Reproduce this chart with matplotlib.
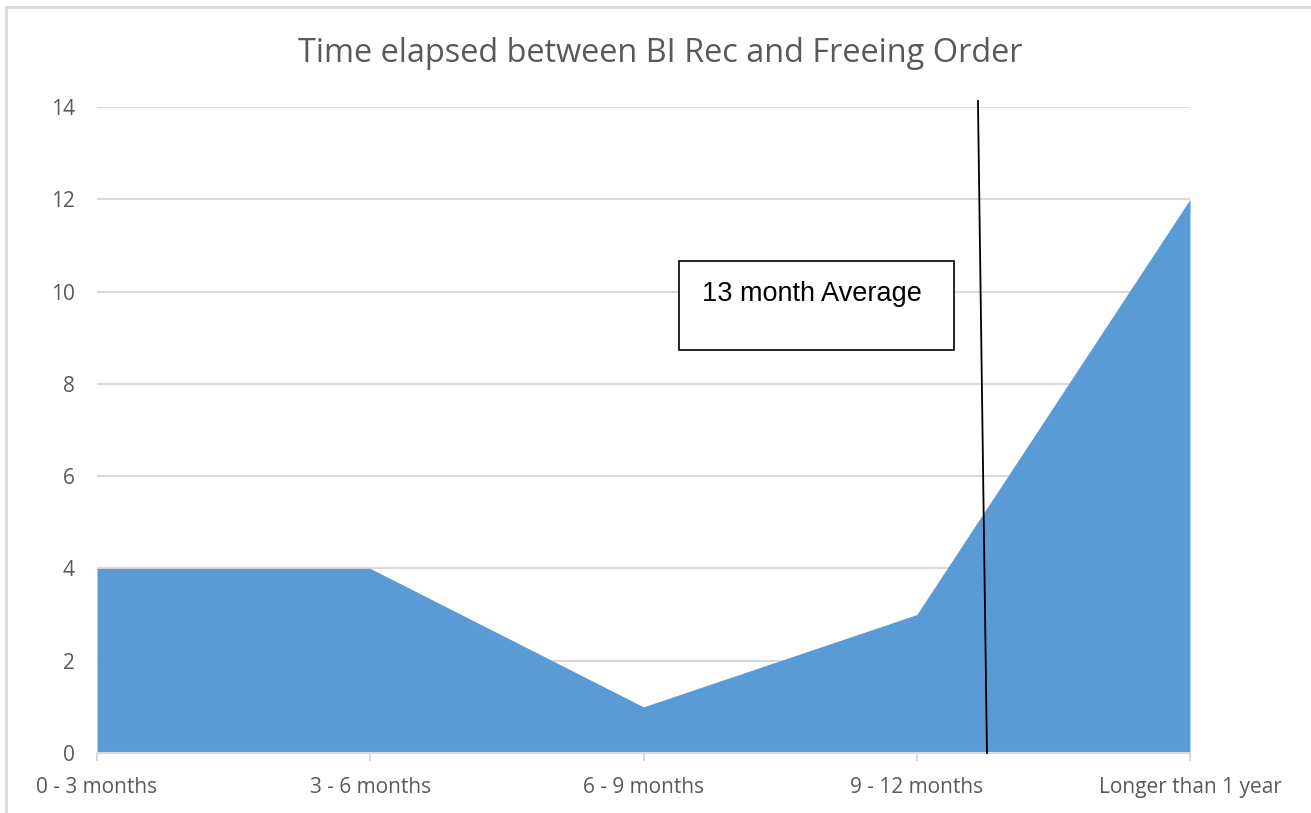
import matplotlib.pyplot as plt
from matplotlib.patches import Rectangle

categories = ['0 - 3 months', '3 - 6 months', '6 - 9 months', '9 - 12 months', 'Longer than 1 year']
counts = [4, 4, 1, 3, 12]
yticks = [0, 2, 4, 6, 8, 10, 12, 14]

title = 'Time elapsed between BI Rec and Freeing Order'
note = '13 month Average'

plt.rcParams['font.family'] = ['Open Sans', 'DejaVu Sans']
grey = '#595959'

fig = plt.figure(figsize=(13.11, 8.13), dpi=100)
ax = fig.add_axes([97/1311, 1 - 753/813, 1093/1311, 646/813])

x = list(range(len(categories)))
ax.fill_between(x, counts, 0, color='#5B9BD5', linewidth=0, zorder=2)

ax.set_xlim(0, len(categories) - 1)
ax.set_ylim(0, 14)
ax.set_yticks(yticks)
ax.set_xticks(x)
ax.set_xticklabels(categories)
ax.grid(axis='y', color='#D9D9D9', linewidth=1.5, zorder=0)
ax.set_axisbelow(True)
for s in ['top', 'right', 'left']:
    ax.spines[s].set_visible(False)
ax.spines['bottom'].set_color('#D9D9D9')
ax.spines['bottom'].set_linewidth(1.5)
ax.tick_params(axis='y', length=0, pad=16, labelsize=15, labelcolor=grey)
ax.tick_params(axis='x', length=6, width=1.5, color='#D9D9D9', pad=11, labelsize=15, labelcolor=grey)

fig.text(0.5035, 1 - 54/813, title, ha='center', va='center', fontsize=23.4, color=grey)

# average line and text box (drawn shapes)
ax.plot([3.224, 3.257], [14.13, 0], color='black', linewidth=1.3, clip_on=False, zorder=4)
ax.add_patch(Rectangle((2.130, 8.73), 1.006, 1.93, facecolor='white', edgecolor='black',
                       linewidth=1.2, zorder=5, clip_on=False))
ax.text(2.214, 9.94, note, ha='left', va='center', fontsize=19.5, color='black', zorder=6,
        family=['Liberation Sans', 'DejaVu Sans'])

# chart border
fig.add_artist(Rectangle((6/1311, -0.01), 1.0, 1 - 7/813 + 0.01, transform=fig.transFigure,
                         facecolor='none', edgecolor='#D9D9D9', linewidth=2))

fig.savefig('out.png', dpi=100)
